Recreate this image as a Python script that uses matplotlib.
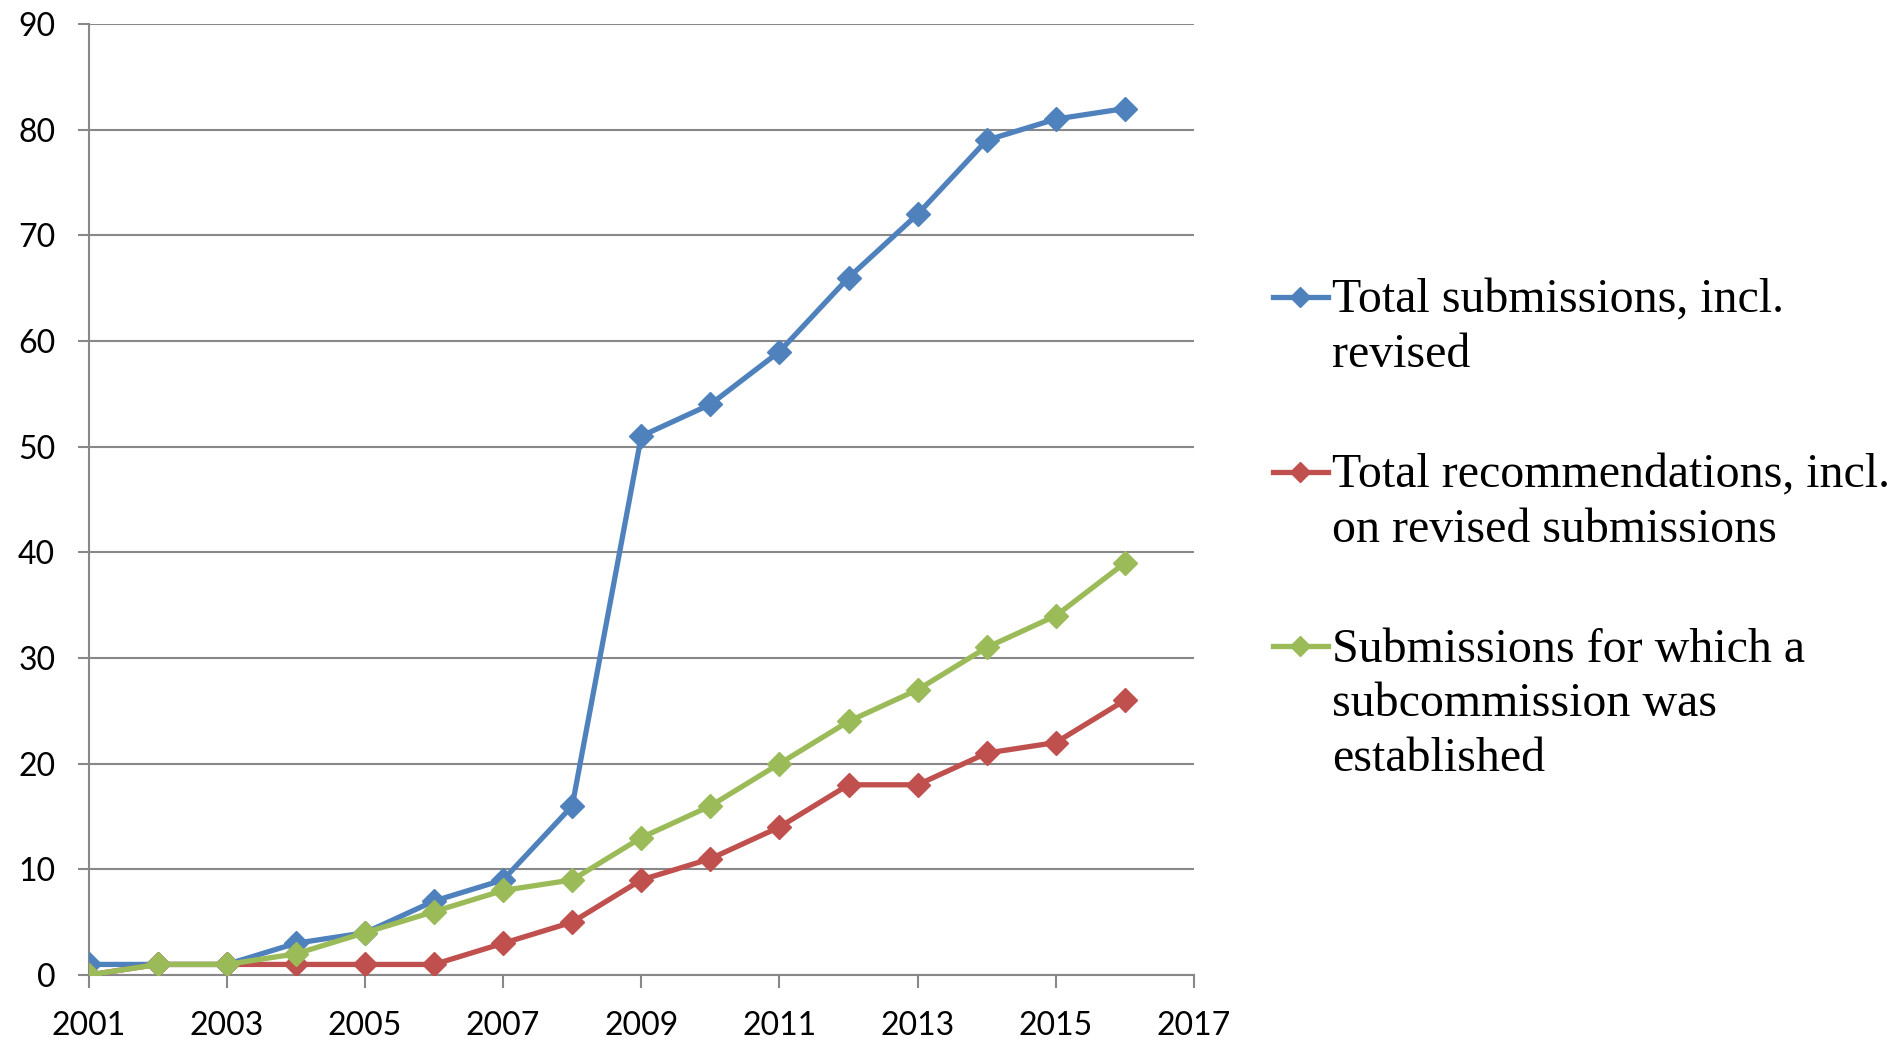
import matplotlib
matplotlib.use("Agg")
import matplotlib.pyplot as plt
from matplotlib.lines import Line2D

years = list(range(2001, 2017))
total_submissions = [1, 1, 1, 3, 4, 7, 9, 16, 51, 54, 59, 66, 72, 79, 81, 82]
total_recommendations = [0, 1, 1, 1, 1, 1, 3, 5, 9, 11, 14, 18, 18, 21, 22, 26]
subcommission_established = [0, 1, 1, 2, 4, 6, 8, 9, 13, 16, 20, 24, 27, 31, 34, 39]

series_labels = [
    ["Total submissions, incl.", "revised"],
    ["Total recommendations, incl.", "on revised submissions"],
    ["Submissions for which a", "subcommission was", "established"],
]
colors = ["#4F81BD", "#C0504D", "#9BBB59"]

x_ticks = list(range(2001, 2018, 2))
y_ticks = list(range(0, 91, 10))

W, H = 1901, 1039
fig = plt.figure(figsize=(W / 100, H / 100), dpi=100)
ax = fig.add_axes([0.0466, 0.0616, 0.5815, 0.9153])

# draw in excel order: blue, red, green on top
for vals, c in zip([total_submissions, total_recommendations, subcommission_established], colors):
    ax.plot(years, vals, color=c, lw=3.8, marker="D", ms=12, mec=c, mfc=c, zorder=3)

ax.set_xlim(2001, 2017)
ax.set_ylim(0, 90)
ax.set_xticks(x_ticks)
ax.set_yticks(y_ticks)
ax.yaxis.grid(True, color="#888888", lw=1.5)
ax.set_axisbelow(True)

for s in ["top", "right"]:
    ax.spines[s].set_visible(False)
for s in ["left", "bottom"]:
    ax.spines[s].set_color("#888888")
    ax.spines[s].set_linewidth(1.5)

ax.tick_params(axis="x", length=9, width=1.5, color="#888888", pad=17, labelsize=23)
ax.tick_params(axis="y", length=8, width=1.5, color="#888888", pad=16, labelsize=23)
for lab in ax.get_xticklabels() + ax.get_yticklabels():
    lab.set_family(["Lato", "DejaVu Sans"])

# legend on the right, handle aligned with first text line
legend_y = [0.7141, 0.5461, 0.3782]
line_step = 54.6 / H
base_off = 15.5 / H
for lines, c, yy in zip(series_labels, colors, legend_y):
    fig.add_artist(Line2D([0.6695, 0.6985], [yy, yy], color=c, lw=3.8,
                          transform=fig.transFigure))
    fig.add_artist(Line2D([0.684], [yy], color=c, marker="D", ms=10, mfc=c, mec=c,
                          transform=fig.transFigure))
    for k, txt in enumerate(lines):
        fig.text(0.7005, yy - base_off - k * line_step, txt, fontsize=34.5,
                 family=["Liberation Serif", "DejaVu Serif"],
                 va="baseline", ha="left")

fig.savefig("out.png", dpi=100)
